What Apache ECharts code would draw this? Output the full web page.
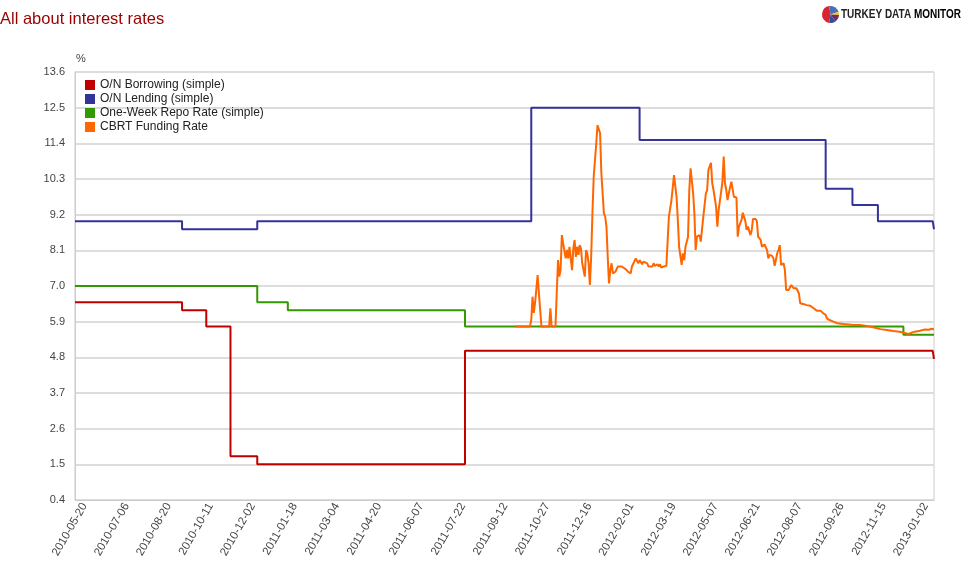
<!DOCTYPE html>
<html><head><meta charset="utf-8">
<script src="https://cdn.jsdelivr.net/npm/echarts@6/dist/echarts.min.js"></script>
<style>html,body{margin:0;padding:0;background:#fff}#c{width:970px;height:570px}</style>
</head><body><div id="c"></div>
<script>
// ---- categories: Turkish business days ----
const startDate = '2010-05-20';
const endDate = '2013-01-22';
const holidays = ['2010-08-30','2010-09-09','2010-09-10','2010-10-29','2010-11-16','2010-11-17','2010-11-18','2010-11-19',
  '2011-05-19','2011-08-30','2011-08-31','2011-09-01','2011-11-07','2011-11-08','2011-11-09',
  '2012-04-23','2012-05-01','2012-08-20','2012-08-21','2012-08-30','2012-10-25','2012-10-26','2012-10-29','2013-01-01'];
const tickLabels = ['2010-05-20','2010-07-06','2010-08-20','2010-10-11','2010-12-02','2011-01-18','2011-03-04','2011-04-20',
  '2011-06-07','2011-07-22','2011-09-12','2011-10-27','2011-12-16','2012-02-01','2012-03-19','2012-05-07','2012-06-21',
  '2012-08-07','2012-09-26','2012-11-15','2013-01-02'];
const yMin = 0.4, yMax = 13.6, yStep = 1.1;

// ---- series (date of change, value) ----
const onBorrowing = [['2010-05-20',6.5],['2010-09-20',6.25],['2010-10-15',5.75],['2010-11-12',1.75],['2010-12-17',1.5],
  ['2011-08-04',5.0],['2013-01-21',5.0],['2013-01-22',4.75]];
const onLending = [['2010-05-20',9.0],['2010-09-20',8.75],['2010-12-17',9.0],['2011-10-20',12.5],['2012-02-21',11.5],
  ['2012-09-19',10.0],['2012-10-18',9.5],['2012-11-20',9.0],['2013-01-21',9.0],['2013-01-22',8.75]];
const oneWeekRepo = [['2010-05-20',7.0],['2010-12-17',6.5],['2011-01-20',6.25],['2011-08-04',5.75],['2012-12-18',5.5],['2013-01-22',5.5]];
const fundingRate = [
 ['2011-10-03',5.75],['2011-10-19',5.75],['2011-10-20',5.95],['2011-10-21',6.67],['2011-10-24',6.17],['2011-10-25',6.48],
 ['2011-10-27',7.34],['2011-10-28',6.77],['2011-11-01',5.75],['2011-11-14',5.75],['2011-11-15',6.31],['2011-11-16',5.75],
 ['2011-11-21',5.75],['2011-11-22',6.8],['2011-11-23',7.80],['2011-11-24',7.29],['2011-11-25',7.49],['2011-11-28',8.57],
 ['2011-11-29',8.32],['2011-11-30',8.32],['2011-12-01',7.85],['2011-12-02',8.11],['2011-12-05',7.85],['2011-12-06',8.21],
 ['2011-12-08',7.49],['2011-12-09',8.16],['2011-12-12',8.42],['2011-12-13',7.9],['2011-12-14',8.21],['2011-12-15',7.96],
 ['2011-12-16',8.26],['2011-12-19',8.16],['2011-12-20',7.70],['2011-12-22',7.29],['2011-12-23',8.11],['2011-12-26',8.0],
 ['2011-12-27',7.7],['2011-12-28',7.03],['2011-12-29',7.9],['2011-12-30',9.24],['2012-01-02',10.37],['2012-01-04',11.40],
 ['2012-01-05',11.96],['2012-01-06',12.02],['2012-01-09',11.71],['2012-01-10',10.48],['2012-01-12',9.24],['2012-01-13',9.14],
 ['2012-01-16',8.83],['2012-01-17',7.9],['2012-01-18',7.08],['2012-01-19',7.49],['2012-01-20',7.70],['2012-01-23',7.39],
 ['2012-01-25',7.44],['2012-01-27',7.60],['2012-02-01',7.60],['2012-02-06',7.52],['2012-02-08',7.44],['2012-02-10',7.39],
 ['2012-02-13',7.60],['2012-02-16',7.85],['2012-02-17',7.9],['2012-02-20',7.70],['2012-02-21',7.80],['2012-02-23',7.67],
 ['2012-02-24',7.75],['2012-02-27',7.78],['2012-02-29',7.70],['2012-03-01',7.6],['2012-03-02',7.65],['2012-03-06',7.6],
 ['2012-03-07',7.70],['2012-03-08',7.62],['2012-03-12',7.67],['2012-03-13',7.6],['2012-03-14',7.67],['2012-03-15',7.57],
 ['2012-03-19',7.6],['2012-03-20',7.57],['2012-03-21',7.62],['2012-03-22',7.64],['2012-03-23',9.14],['2012-03-27',9.65],
 ['2012-03-29',10.42],['2012-04-02',9.75],['2012-04-03',9.04],['2012-04-04',8.21],['2012-04-06',7.65],['2012-04-09',8.01],
 ['2012-04-10',7.80],['2012-04-11',8.21],['2012-04-13',8.52],['2012-04-16',9.96],['2012-04-17',10.63],['2012-04-19',9.86],
 ['2012-04-20',9.24],['2012-04-24',8.11],['2012-04-25',8.52],['2012-04-27',8.57],['2012-04-30',8.37],['2012-05-02',8.42],
 ['2012-05-03',9.14],['2012-05-07',9.86],['2012-05-08',9.96],['2012-05-09',10.58],['2012-05-11',10.80],['2012-05-14',10.17],
 ['2012-05-15',9.96],['2012-05-17',9.45],['2012-05-18',8.83],['2012-05-21',9.34],['2012-05-23',9.91],['2012-05-24',10.22],
 ['2012-05-25',10.99],['2012-05-28',10.17],['2012-05-29',9.96],['2012-05-30',9.65],['2012-05-31',9.86],['2012-06-04',10.22],
 ['2012-06-05',10.25],['2012-06-06',9.75],['2012-06-08',9.73],['2012-06-11',8.52],['2012-06-12',8.83],['2012-06-14',9.04],
 ['2012-06-15',9.26],['2012-06-19',9.0],['2012-06-20',8.73],['2012-06-21',8.83],['2012-06-25',8.57],['2012-06-26',8.73],
 ['2012-06-27',9.07],['2012-06-29',9.07],['2012-07-02',9.0],['2012-07-03',8.52],['2012-07-05',8.42],['2012-07-06',8.21],
 ['2012-07-09',8.26],['2012-07-10',8.28],['2012-07-12',8.11],['2012-07-13',7.85],['2012-07-16',7.96],['2012-07-18',7.93],
 ['2012-07-19',7.85],['2012-07-20',7.62],['2012-07-24',8.01],['2012-07-25',8.11],['2012-07-26',8.26],['2012-07-27',7.65],
 ['2012-07-31',7.70],['2012-08-01',7.49],['2012-08-02',6.88],['2012-08-06',6.88],['2012-08-07',6.93],['2012-08-08',7.03],
 ['2012-08-10',6.93],['2012-08-14',6.93],['2012-08-16',6.77],['2012-08-17',6.47],['2012-08-22',6.52],['2012-08-24',6.44],
 ['2012-08-28',6.41],['2012-09-03',6.39],['2012-09-05',6.33],['2012-09-10',6.24],['2012-09-13',6.24],['2012-09-17',6.16],
 ['2012-09-19',6.11],['2012-09-20',6.0],['2012-09-24',5.95],['2012-09-27',5.90],['2012-10-02',5.85],['2012-10-09',5.83],
 ['2012-10-19',5.80],['2012-10-31',5.80],['2012-11-07',5.77],['2012-11-15',5.72],['2012-11-22',5.67],['2012-11-29',5.64],
 ['2012-12-06',5.61],['2012-12-13',5.59],['2012-12-19',5.55],['2012-12-24',5.52],['2012-12-27',5.57],['2012-12-31',5.59],
 ['2013-01-07',5.62],['2013-01-11',5.66],['2013-01-16',5.65],['2013-01-18',5.68],['2013-01-22',5.66]];

function buildDays() {
  const out = [];
  let t = Date.parse(startDate + 'T00:00:00Z');
  const end = Date.parse(endDate + 'T00:00:00Z');
  while (t <= end) {
    const d = new Date(t);
    const wd = d.getUTCDay();
    const s = d.toISOString().slice(0, 10);
    if (wd !== 0 && wd !== 6 && holidays.indexOf(s) < 0) out.push(s);
    t += 86400000;
  }
  return out;
}
const days = buildDays();
const tickSet = new Set(tickLabels);

const FONT = '"Liberation Sans", Arial, sans-serif';
const chart = echarts.init(document.getElementById('c'), null, {renderer: 'canvas'});
const lineSeries = (name, data, color, step) => ({
  name, type: 'line', data, step: step ? 'end' : false, showSymbol: false, symbol: 'none',
  lineStyle: {color, width: 2}, itemStyle: {color}, emphasis: {disabled: true}
});
chart.setOption({
  animation: false,
  textStyle: {fontFamily: FONT},
  title: {text: 'All about interest rates', left: 0, top: 11, padding: 0,
    textStyle: {color: '#990000', fontSize: 16.5, fontWeight: 'normal', fontFamily: FONT}},
  legend: {orient: 'vertical', left: 85, top: 79, padding: 0, itemWidth: 10, itemHeight: 10, itemGap: 2, icon: 'rect',
    textStyle: {fontSize: 12, color: '#222', fontFamily: FONT},
    data: ['O/N Borrowing (simple)', 'O/N Lending (simple)', 'One-Week Repo Rate (simple)', 'CBRT Funding Rate']},
  grid: {left: 75, right: 36, top: 72, bottom: 70, show: true, borderColor: '#cccccc', borderWidth: 1},
  xAxis: {type: 'category', data: days, boundaryGap: false,
    axisLine: {lineStyle: {color: '#cccccc'}}, axisTick: {show: false},
    axisLabel: {interval: (i, v) => tickSet.has(v), rotate: 60, fontSize: 11.5, color: '#444',
      margin: -1.5, verticalAlign: 'top', padding: [5, 0, 0, 0]}},
  yAxis: {type: 'value', min: yMin, max: yMax, interval: yStep, name: '%', nameLocation: 'end', nameGap: 8,
    nameTextStyle: {align: 'left', color: '#444', fontSize: 11, padding: [0, 0, 0, 1]},
    axisLine: {show: true, lineStyle: {color: '#cccccc'}}, axisTick: {show: false},
    splitLine: {lineStyle: {color: '#dddddd', width: 2}},
    axisLabel: {formatter: v => v.toFixed(1), fontSize: 11, color: '#444', margin: 10}},
  series: [
    lineSeries('O/N Borrowing (simple)', onBorrowing, '#c00000', true),
    lineSeries('O/N Lending (simple)', onLending, '#333399', true),
    lineSeries('One-Week Repo Rate (simple)', oneWeekRepo, '#339900', true),
    lineSeries('CBRT Funding Rate', fundingRate, '#ff6600', false)
  ],
  graphic: [
    {type: 'group', left: 822, top: 6, children: [
      {type: 'sector', shape: {cx: 9, cy: 9, r: 8.5, startAngle: Math.PI * 0.55, endAngle: Math.PI * 1.45}, style: {fill: '#d8262e'}},
      {type: 'sector', shape: {cx: 9, cy: 9, r: 8.5, startAngle: Math.PI * 1.45, endAngle: Math.PI * 1.9}, style: {fill: '#4a6fb5'}},
      {type: 'sector', shape: {cx: 9, cy: 9, r: 8.5, startAngle: Math.PI * 1.9, endAngle: Math.PI * 2.02}, style: {fill: '#f2c230'}},
      {type: 'sector', shape: {cx: 9, cy: 9, r: 8.5, startAngle: Math.PI * 0.02, endAngle: Math.PI * 0.3}, style: {fill: '#7a2a5e'}},
      {type: 'sector', shape: {cx: 9, cy: 9, r: 8.5, startAngle: Math.PI * 0.3, endAngle: Math.PI * 0.55}, style: {fill: '#2f4f9e'}}
    ]},
    {type: 'text', x: 841, y: 15, scaleX: 0.8, style: {
      text: '{a|TURKEY DATA }{b|MONITOR}', verticalAlign: 'middle',
      rich: {a: {fontFamily: FONT, fontSize: 12.5, fontWeight: 'bold', fill: '#222'},
             b: {fontFamily: FONT, fontSize: 12.5, fontWeight: 900, fill: '#000'}}}}
  ]
});
</script></body></html>
